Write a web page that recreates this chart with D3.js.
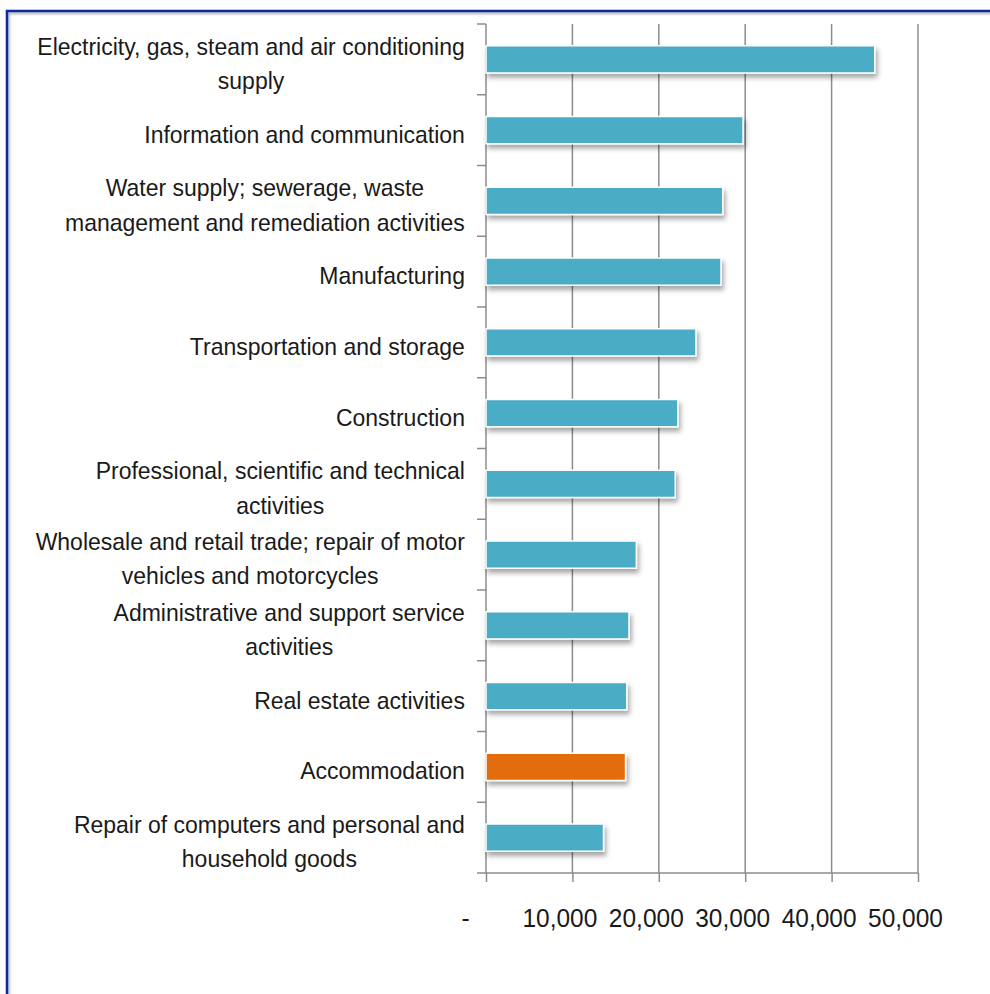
<!DOCTYPE html>
<html><head><meta charset="utf-8">
<script src="https://cdn.jsdelivr.net/npm/d3@7"></script>
<style>
html,body{margin:0;padding:0;background:#fff;}
svg{display:block;}
text{font-family:"Liberation Sans",Arial,Helvetica,sans-serif;fill:#1a1a1a;}
</style></head>
<body>
<script>
const categories = [
  "Electricity, gas, steam and air conditioning\nsupply",
  "Information and communication",
  "Water supply; sewerage, waste\nmanagement and remediation activities",
  "Manufacturing",
  "Transportation and storage",
  "Construction",
  "Professional, scientific and technical\nactivities",
  "Wholesale and retail trade; repair of motor\nvehicles and motorcycles",
  "Administrative and support service\nactivities",
  "Real estate activities",
  "Accommodation",
  "Repair of computers and personal and\nhousehold goods"
];
const values = [45000, 29750, 27400, 27200, 24300, 22200, 21900, 17400, 16550, 16300, 16150, 13600];
const highlighted = ["Accommodation"];
const xTicks = [0, 10000, 20000, 30000, 40000, 50000];

const W = 990, H = 994;
const svg = d3.select("body").append("svg").attr("width", W).attr("height", H);

const defs = svg.append("defs");
const f = defs.append("filter").attr("id","shadow").attr("x","-10%").attr("y","-50%").attr("width","130%").attr("height","250%");
f.append("feDropShadow").attr("dx",2).attr("dy",4).attr("stdDeviation",2.5).attr("flood-color","#000").attr("flood-opacity",0.35);
const fb = defs.append("filter").attr("id","bshadow").attr("x","-5%").attr("y","-5%").attr("width","110%").attr("height","110%");
fb.append("feDropShadow").attr("dx",1.5).attr("dy",2).attr("stdDeviation",1).attr("flood-color","#000").attr("flood-opacity",0.3);

// frame border
svg.append("path")
  .attr("d", `M7,${H+5} L7,11 L${W+5},11`)
  .attr("fill","none").attr("stroke","#0d2a9c").attr("stroke-width",2.5)
  .attr("filter","url(#bshadow)");

const x = d3.scaleLinear().domain([0, 50000]).range([486, 918]);
const y = d3.scaleBand().domain(categories).range([24, 873]).paddingInner(0.615).paddingOuter(0.3075);
const yb = d3.scaleLinear().domain([0, categories.length]).range([24, 873]);

// gridlines
svg.append("g").selectAll("line").data(xTicks.slice(1)).join("line")
  .attr("x1", d => x(d)).attr("x2", d => x(d))
  .attr("y1", 24).attr("y2", 873)
  .attr("stroke", "#8c8c8c").attr("stroke-width", 1.5);

// y axis line + category ticks
svg.append("line").attr("x1",486).attr("x2",486).attr("y1",24).attr("y2",873)
  .attr("stroke","#8c8c8c").attr("stroke-width",1.5);
svg.append("g").selectAll("line").data(d3.range(categories.length + 1)).join("line")
  .attr("x1", 477).attr("x2", 486)
  .attr("y1", d => yb(d)).attr("y2", d => yb(d))
  .attr("stroke","#8c8c8c").attr("stroke-width",1.5);

// x axis
const xAxis = d3.axisBottom(x).tickValues(xTicks).tickSize(9).tickPadding(0)
  .tickFormat(d => d === 0 ? "-" : d3.format(",")(d));
const gx = svg.append("g").attr("transform","translate(0,873)").call(xAxis);
gx.select(".domain").attr("stroke","#8c8c8c").attr("stroke-width",1.5).attr("d","M486,0H918");
gx.selectAll(".tick line").attr("stroke","#8c8c8c").attr("stroke-width",1.5);
gx.selectAll(".tick text")
  .attr("font-size", 24.5).attr("fill","#1a1a1a")
  .attr("font-family","Liberation Sans, Arial, sans-serif")
  .attr("transform","translate(0,54) scale(1,1.08) translate(0,-54)")
  .attr("y", 54).attr("dy", 0)
  .attr("x", d => d === 0 ? -21 : -13);

// bars
svg.append("g").selectAll("rect").data(categories).join("rect")
  .attr("x", x(0))
  .attr("y", d => y(d))
  .attr("width", (d,i) => x(values[i]) - x(0))
  .attr("height", y.bandwidth())
  .attr("fill", d => highlighted.includes(d) ? "#e36c0a" : "#4bacc6")
  .attr("stroke", "#ffffff").attr("stroke-width", 1.5)
  .attr("filter","url(#shadow)");

// category labels (block right-aligned, lines centered within block)
const lh = 32;
const lab = svg.append("g").selectAll("text").data(categories).join("text")
  .attr("text-anchor","middle")
  .attr("font-size", 23);
lab.each(function(d){
  const lines = d.split("\n");
  const cy = y(d) + y.bandwidth()/2 + 12;
  const t = d3.select(this);
  const spans = lines.map((ln, k) => t.append("tspan")
      .attr("y", cy + (k - (lines.length-1)/2) * lh)
      .text(ln));
  const maxW = d3.max(spans, s => s.node().getComputedTextLength());
  spans.forEach(s => s.attr("x", 465 - maxW/2));
  const c = cy - 8;
  t.attr("transform", `translate(0,${c}) scale(1,1.07) translate(0,${-c})`);
});
</script>
</body></html>
